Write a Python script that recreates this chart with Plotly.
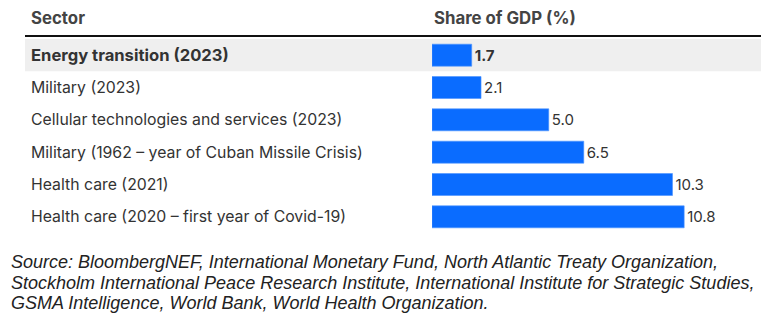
import plotly.graph_objects as go

sectors = [
    "Energy transition (2023)",
    "Military (2023)",
    "Cellular technologies and services (2023)",
    "Military (1962 – year of Cuban Missile Crisis)",
    "Health care (2021)",
    "Health care (2020 – first year of Covid-19)",
]
shares = [1.7, 2.1, 5.0, 6.5, 10.3, 10.8]
highlight = [True, False, False, False, False, False]
col_headers = ["Sector", "Share of GDP (%)"]
source_lines = [
    "Source: BloombergNEF, International Monetary Fund, North Atlantic Treaty Organization,",
    "Stockholm International Peace Research Institute, International Institute for Strategic Studies,",
    "GSMA Intelligence, World Bank, World Health Organization.",
]

W, H = 761, 333
ML, MR, MT, MB = 432, 0, 39, 100
plot_w = W - ML - MR
plot_h = H - MT - MB
px_per_unit = 23.35
xmax = plot_w / px_per_unit

def px_to_paper_x(px):
    return (px - ML) / plot_w

def px_to_paper_y(py):
    return 1 - (py - MT) / plot_h

LABEL_FONT = "Inter, Liberation Sans, Arial, sans-serif"
SOURCE_FONT = "Liberation Sans, Arial, sans-serif"

bar_text = [f"<b>{v:.1f}</b>" if h else f"{v:.1f}" for v, h in zip(shares, highlight)]

fig = go.Figure()
fig.add_trace(go.Bar(
    x=shares, y=sectors, orientation="h",
    marker=dict(color="#0a6cff", line=dict(color="#4d94ff", width=0.6)),
    text=bar_text, textposition="outside", cliponaxis=False,
    textfont=dict(family=LABEL_FONT, size=15, color="#333333"),
    hoverinfo="skip",
))

shapes = []
for i, h in enumerate(highlight):
    if h:
        shapes.append(dict(type="rect", xref="paper", yref="y",
                           x0=px_to_paper_x(25), x1=px_to_paper_x(W + 5),
                           y0=i - 0.5, y1=i + 0.5,
                           fillcolor="#efefef", line=dict(width=0), layer="below"))
shapes.append(dict(type="line", xref="paper", yref="paper",
                   x0=px_to_paper_x(25), x1=px_to_paper_x(W + 5),
                   y0=px_to_paper_y(36), y1=px_to_paper_y(36),
                   line=dict(color="#111111", width=2)))

annotations = []
for i, (s, h) in enumerate(zip(sectors, highlight)):
    annotations.append(dict(
        xref="paper", yref="y", x=px_to_paper_x(29), y=s,
        text=f"<b>{s}</b>" if h else s, showarrow=False,
        xanchor="left", yanchor="middle",
        font=dict(family=LABEL_FONT, size=16.6 if h else 15.8, color="#333333"),
    ))
for txt, px in zip(col_headers, [29, 432]):
    annotations.append(dict(
        xref="paper", yref="paper", x=px_to_paper_x(px), y=px_to_paper_y(18),
        text=f"<b>{txt}</b>", showarrow=False, xanchor="left", yanchor="middle",
        font=dict(family=LABEL_FONT, size=16.8, color="#444444"),
    ))
for j, line in enumerate(source_lines):
    annotations.append(dict(
        xref="paper", yref="paper", x=px_to_paper_x(9), y=px_to_paper_y(262 + j * 20.5),
        text=f"<i>{line}</i>", showarrow=False, xanchor="left", yanchor="middle",
        font=dict(family=SOURCE_FONT, size=18, color="#222222"),
    ))

fig.update_layout(
    width=W, height=H,
    margin=dict(l=ML, r=MR, t=MT, b=MB, pad=0),
    paper_bgcolor="white", plot_bgcolor="rgba(0,0,0,0)",
    showlegend=False, bargap=0.32,
    xaxis=dict(range=[0, xmax], visible=False, fixedrange=True),
    yaxis=dict(autorange="reversed", visible=False, fixedrange=True,
               categoryorder="array", categoryarray=sectors),
    shapes=shapes, annotations=annotations,
)

fig.write_html("out.html")
